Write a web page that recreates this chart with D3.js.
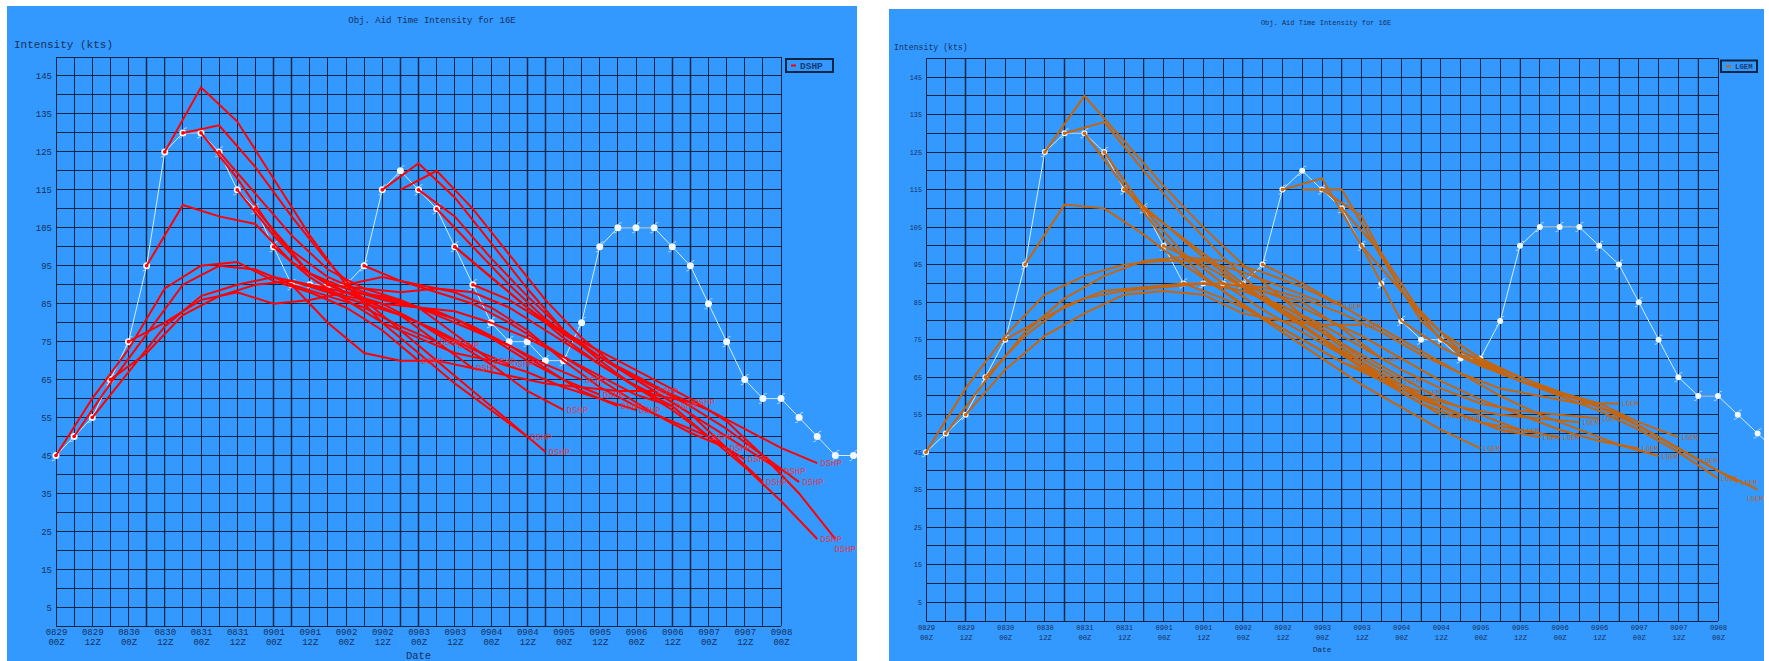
<!DOCTYPE html>
<html><head><meta charset="utf-8">
<script src="https://cdn.jsdelivr.net/npm/d3@7"></script>
<style>body{margin:0;background:#fff;}svg{display:block}</style>
</head><body>
<svg id="c" width="1769" height="661"></svg>
<script>
// ---------- DATA ----------
const tickDates = ["0829","0829","0830","0830","0831","0831","0901","0901","0902","0902","0903","0903","0904","0904","0905","0905","0906","0906","0907","0907","0908"];
const tickHours = ["00Z","12Z","00Z","12Z","00Z","12Z","00Z","12Z","00Z","12Z","00Z","12Z","00Z","12Z","00Z","12Z","00Z","12Z","00Z","12Z","00Z"];
const yTicks = [5,15,25,35,45,55,65,75,85,95,105,115,125,135,145];
// best track, every 6 h from 0829 00Z (index 0)
const bestTrack = [45,50,55,65,75,95,125,130,130,125,115,110,100,90,90,90,90,95,115,120,115,110,100,90,80,75,75,70,70,80,100,105,105,105,100,95,85,75,65,60,60,55,50,45,45];

// DSHP runs: start index (6-h steps) and values every 12 h
const dshpStarts = [0,1,2,3,4,5,6,7,8,9,10,11,12,13,14,15,16,17,18,19,20,21,22,22,23];
const dshpRuns = [
 [45,60,73,89,95,96,91,88,84,78,70],
 [50,64,77,90,95,94,90,87,84,79,75],
 [55,67,79,87,90,92,90,88,85,80,74],
 [65,72,82,87,90,91,88,85,82,75,68],
 [75,80,86,88,85,86,88,87,84,77,70],
 [95,111,108,106,96,90,86,82,78,73,69],
 [125,142,133,118,103,90,80,72,64,57,50],
 [130,132,121,108,96,86,78,70,62,54,46],
 [130,118,104,93,88,84,80,75,69,62,57],
 [125,114,103,94,89,86,82,78,74,69,65],
 [115,103,93,89,86,84,81,76,70,65,61],
 [110,99,92,88,85,83,79,74,68,62,58],
 [100,92,86,80,76,72,70,67,63,60,57],
 [90,80,72,70,70,68,66,64,63,62,62],
 [90,87,85,84,83,80,76,71,66,61,58],
 [90,89,88,89,88,84,78,72,66,61,59],
 [90,92,90,88,84,78,70,63,58,54,50],
 [95,91,88,85,80,74,68,62,56,51,47],
 [115,122,113,101,89,78,70,63,57,50,44],
 [115,120,110,98,86,76,68,62,56,47,38],
 [115,108,97,87,78,71,65,59,53,47,41],
 [110,100,90,81,74,68,63,58,52,45,38],
 [100,92,84,77,71,66,61,57,52,47,43],
 [100,92,84,76,69,63,58,50,42,33,23],
 [90,86,80,75,70,65,60,54,45,35,23]
];

// LGEM runs
const lgemStarts = [0,1,2,3,4,5,6,7,8,9,10,11,12,13,14,15,16,17,18,19,20,21,22];
const lgemRuns = [
 [45,62,76,87,92,95,96,96,93,89,85],
 [50,64,77,86,92,96,97,96,93,89,84],
 [55,67,76,82,87,88,87,82,80,79,79],
 [65,76,84,88,89,90,90,88,85,78,70],
 [75,81,86,88,89,90,88,84,78,70,64],
 [95,111,110,103,95,88,81,75,69,65,61],
 [125,140,128,116,105,95,86,77,69,61,55],
 [130,133,120,108,97,87,79,71,64,58,54],
 [130,116,102,92,84,77,70,63,57,51,46],
 [125,110,98,90,83,77,71,65,59,55,51],
 [115,106,97,89,82,75,68,62,57,53,51],
 [110,102,94,86,79,72,66,60,55,51,49],
 [100,95,89,83,77,71,65,59,55,51,49],
 [90,86,81,75,69,64,60,57,55,54,53],
 [90,88,84,79,73,67,62,58,56,55,54],
 [90,89,86,82,77,71,66,62,60,58,58],
 [90,86,81,76,70,64,59,55,51,48,46],
 [95,90,84,78,72,66,60,55,51,47,44],
 [115,118,100,80,73,68,64,61,58,53,49],
 [115,115,97,80,71,66,62,59,55,49,43],
 [115,108,88,75,69,64,60,56,51,45,38],
 [110,98,82,72,67,63,59,55,49,43,37],
 [100,88,77,70,65,61,57,52,46,40,35]
];

const titleText = "Obj. Aid Time Intensity for 16E";
const yAxisTitle = "Intensity (kts)";
const xAxisTitle = "Date";

// ---------- DRAW ----------
const svg = d3.select("#c");
const NAVY = "#0b2545";
const TXT = "#15305c";
const FONT = "Liberation Mono, DejaVu Sans Mono, monospace";

const panels = [
 {id:"p1", bg:[7,6,850,655], L:56, R:781, T:57, B:626.3, color:"#ff0000", labelColor:"#e8323f",
  name:"DSHP", starts:dshpStarts, runs:dshpRuns, titleX:432, titleY:20.7, titleSize:9,
  ylabX:14, ylabY:45, ylabSize:11, tickSize:9, xl1:632.7, xl2:642.7, xlSize:9, dateY:656, dateSize:10.5,
  labelSize:9, legend:[786,59,47,13], dotR:3.5, thick:[5,6,12,13,19,20,26,27,34,35], lw:2},
 {id:"p2", bg:[889,9,875,652], L:926, R:1718, T:58.3, B:621, color:"#c8640a", labelColor:"#c0620f",
  name:"LGEM", starts:lgemStarts, runs:lgemRuns, titleX:1326, titleY:23, titleSize:7,
  ylabX:894, ylabY:47, ylabSize:8.2, tickSize:6.8, xl1:627.7, xl2:637.7, xlSize:7.2, dateY:649.5, dateSize:7.8,
  labelSize:6.8, legend:[1721,60.5,36,11.5], dotR:3, thick:[2,7,11,16,21,25,30,35,39], lw:2}
];

panels.forEach(p => {
  const g = svg.append("g");
  const [bx,by,bw,bh] = p.bg;
  g.append("rect").attr("x",bx).attr("y",by).attr("width",bw).attr("height",bh).attr("fill","#3399ff");
  const clip = svg.append("clipPath").attr("id","clip"+p.id);
  clip.append("rect").attr("x",bx).attr("y",by).attr("width",bw).attr("height",bh);

  const x = d3.scaleLinear().domain([0,40]).range([p.L,p.R]);
  const y = d3.scaleLinear().domain([0,150]).range([p.B,p.T]);

  // grid
  const grid = g.append("g");
  p.thick.forEach(i => {
    grid.append("line").attr("x1",x(i)).attr("x2",x(i)).attr("y1",p.T).attr("y2",p.B)
      .attr("stroke","#1f5c9e").attr("stroke-width",2.5).attr("opacity",0.45);
  });
  d3.range(0,41).forEach(i => {
    grid.append("line").attr("x1",x(i)).attr("x2",x(i)).attr("y1",p.T).attr("y2",p.B)
      .attr("stroke",NAVY).attr("stroke-width",1);
  });
  d3.range(0,151,5).forEach(k => {
    grid.append("line").attr("x1",p.L).attr("x2",p.R).attr("y1",y(k)).attr("y2",y(k))
      .attr("stroke",NAVY).attr("stroke-width",1);
  });
  grid.selectAll("line").attr("shape-rendering","crispEdges");

  // axes
  const ya = g.append("g").attr("transform",`translate(${p.L},0)`)
    .call(d3.axisLeft(y).tickValues(yTicks).tickSize(0).tickPadding(4));
  ya.select(".domain").remove();
  ya.selectAll("text").attr("font-family",FONT).attr("font-size",p.tickSize).attr("fill",TXT);

  const xa = g.append("g").attr("transform",`translate(0,${p.B})`)
    .call(d3.axisBottom(x).tickValues(d3.range(0,41,2)).tickSize(0).tickFormat(""));
  xa.select(".domain").remove();
  xa.selectAll(".tick text").each(function(d,j){
    const t = d3.select(this).attr("y",0).attr("dy",null)
      .attr("font-family",FONT).attr("font-size",p.xlSize).attr("fill",TXT).attr("text-anchor","middle");
    t.append("tspan").attr("x",0).attr("y",p.xl1-p.B).attr("dominant-baseline","central").text(tickDates[j]);
    t.append("tspan").attr("x",0).attr("y",p.xl2-p.B).attr("dominant-baseline","central").text(tickHours[j]);
  });

  // titles
  g.append("text").attr("x",p.titleX).attr("y",p.titleY).attr("dominant-baseline","central")
    .attr("text-anchor","middle").attr("font-family",FONT).attr("font-size",p.titleSize).attr("fill",TXT).text(titleText);
  g.append("text").attr("x",p.ylabX).attr("y",p.ylabY).attr("dominant-baseline","central")
    .attr("font-family",FONT).attr("font-size",p.ylabSize).attr("fill",TXT).text(yAxisTitle);
  g.append("text").attr("x",(p.L+p.R)/2).attr("y",p.dateY).attr("dominant-baseline","central")
    .attr("text-anchor","middle").attr("font-family",FONT).attr("font-size",p.dateSize).attr("fill",TXT).text(xAxisTitle);

  // legend
  const [lx,ly,lw,lh] = p.legend;
  g.append("rect").attr("x",lx).attr("y",ly).attr("width",lw).attr("height",lh)
    .attr("fill","none").attr("stroke",NAVY).attr("stroke-width",2);
  g.append("line").attr("x1",lx+5).attr("x2",lx+10).attr("y1",ly+lh/2).attr("y2",ly+lh/2)
    .attr("stroke",p.color).attr("stroke-width",2);
  g.append("text").attr("x",lx+14).attr("y",ly+lh/2+0.5).attr("dominant-baseline","central")
    .attr("font-family",FONT).attr("font-size",p.labelSize+0.5).attr("font-weight","bold").attr("fill","#1a3a70").text(p.name);

  const data = g.append("g").attr("clip-path",`url(#clip${p.id})`);

  // best track
  const bt = bestTrack.map((v,i)=>[i,v]);
  const line = d3.line().x(d=>x(d[0])).y(d=>y(d[1]));
  data.append("path").attr("d",line(bt)).attr("fill","none").attr("stroke","#d6ebff").attr("stroke-width",1);
  bt.forEach(d => {
    const cx = x(d[0]), cy = y(d[1]);
    data.append("path").attr("d",`M${cx+1},${cy-p.dotR-0.5} q2,-1.5 3,-1 M${cx-1},${cy+p.dotR+0.5} q-2,1.5 -3,1`)
      .attr("fill","none").attr("stroke","#e8f3ff").attr("stroke-width",0.8).attr("opacity",0.85);
    data.append("circle").attr("cx",cx).attr("cy",cy).attr("r",p.dotR).attr("fill","#f4f8ff");
  });

  // forecast runs
  const labelW = p.labelSize * 0.6 * p.name.length;
  const maxX = bx + bw - 1;
  p.runs.forEach((vals,r) => {
    const s = p.starts[r];
    const pts = vals.map((v,j)=>[s+2*j, v]);
    data.append("path").attr("d",line(pts)).attr("fill","none").attr("stroke",p.color)
      .attr("stroke-width",p.lw).attr("stroke-linejoin","miter");
    const last = pts[pts.length-1];
    const want = x(last[0]) + 3;
    const clamped = want > maxX - labelW;
    const lxp = clamped ? maxX - labelW : want;
    const lyp = y(last[1]) + 1 + (clamped ? p.labelSize + 1 : 0);
    g.append("text").attr("x",lxp).attr("y",lyp).attr("dominant-baseline","central")
      .attr("font-family",FONT).attr("font-size",p.labelSize).attr("fill",p.labelColor).attr("opacity",0.9).text(p.name);
    if (vals[0] === bestTrack[s]) {
      data.append("circle").attr("cx",x(s)).attr("cy",y(vals[0])).attr("r",1.8).attr("fill",p.color);
    }
  });
});
</script>
</body></html>
